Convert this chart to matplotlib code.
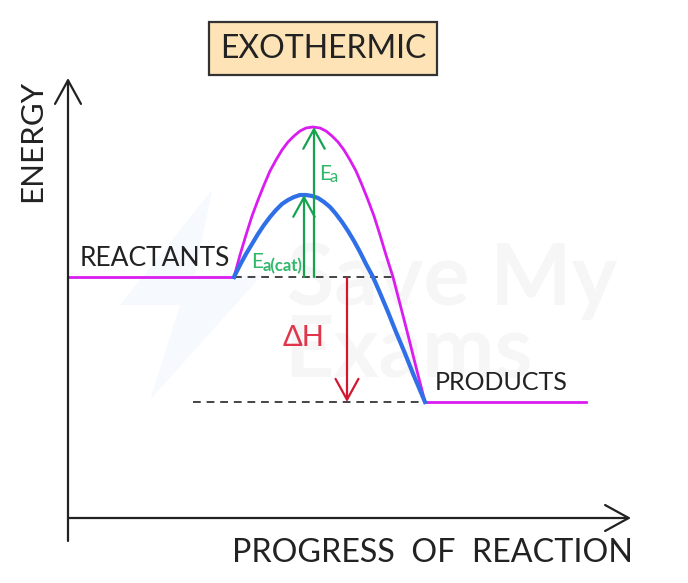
import matplotlib.pyplot as plt
from matplotlib.patches import Polygon, Rectangle

plt.rcParams['font.family'] = ['Lato', 'DejaVu Sans']

# everything, in its pixel coordinates
uncat_x = [234, 240, 246, 252, 258, 264, 270, 276, 282, 288, 294, 300, 306, 313, 320, 326, 332, 338, 344, 350, 356,
           362, 368, 374, 380, 386, 393, 400, 408, 416, 425]
uncat_y = [277, 255, 235, 216, 200, 185, 171, 160, 150, 142, 136, 131, 128, 127, 128, 131, 136, 142, 150, 160, 171,
           185, 200, 216, 235, 255, 277, 304, 335, 367, 402]
cat_x = [234, 240, 246, 252, 258, 264, 270, 276, 282, 288, 294, 300, 303, 306, 312, 318, 324, 330, 336, 342, 348,
         354, 360, 366, 373, 380, 388, 396, 404, 414, 425]
cat_y = [277, 265, 254, 244, 234, 225, 217, 210, 204, 200, 197, 195, 195, 195, 196, 198, 202, 207, 214, 222, 231,
         241, 252, 264, 277, 293, 312, 332, 351, 376, 402]
reactants_x = [68, 234]
reactants_y = [277, 277]
products_x = [425, 586]
products_y = [402, 402]

fig = plt.figure(figsize=(6.88, 5.83), dpi=100)
ax = fig.add_axes([0, 0, 1, 1])
ax.set_xlim(0, 688)
ax.set_ylim(583, 0)
ax.axis('off')

# faint watermark
bolt = [(212, 190), (120, 305), (180, 305), (150, 400), (262, 275), (195, 275)]
ax.add_patch(Polygon(bolt, closed=True, fc='#f6f9fd', ec='none', zorder=0))
ax.text(452, 280, 'Save My', fontsize=62, color='#f6f6f6', ha='center', va='center', fontweight='bold', zorder=0)
ax.text(408, 352, 'Exams', fontsize=62, color='#f6f6f6', ha='center', va='center', fontweight='bold', zorder=0)

# title box
ax.add_patch(Rectangle((209, 22), 228, 53, fc='#fde3b5', ec='#333333', lw=1.6))
ax.text(323, 49, 'EXOTHERMIC', fontsize=23, color='#222222', ha='center', va='center')


def arrow(x0, y0, x1, y1, color, lw, size):
    ax.annotate('', xy=(x1, y1), xytext=(x0, y0),
                arrowprops=dict(arrowstyle=f'->,head_length={size},head_width={size * 0.55}',
                                color=color, lw=lw, shrinkA=0, shrinkB=0))


# axes
arrow(68, 541, 68, 78, '#222222', 1.6, 1.7)
arrow(68, 518, 631, 518, '#222222', 1.6, 1.7)
ax.text(32, 141, 'ENERGY', fontsize=22.5, color='#222222', rotation=90, ha='center', va='center')
ax.text(432, 553, 'PROGRESS  OF  REACTION', fontsize=23.2, color='#222222', ha='center', va='center')

# dashed levels
ax.plot([234, 395], [277, 277], color='#444444', lw=1.4, dashes=(4, 3))
ax.plot([193, 425], [402, 402], color='#444444', lw=1.4, dashes=(4, 3))

# energy curves
ax.plot(reactants_x, reactants_y, color='#d91cf0', lw=2)
ax.plot(products_x, products_y, color='#d91cf0', lw=2)
ax.plot(uncat_x, uncat_y, color='#d91cf0', lw=2, solid_joinstyle='round')
ax.plot(cat_x, cat_y, color='#2f6fe8', lw=3, solid_joinstyle='round')

# activation energy and enthalpy arrows
arrow(314, 277, 314, 127, '#16a34f', 1.6, 1.4)
arrow(304, 277, 304, 195, '#16a34f', 1.6, 1.4)
arrow(347, 278, 347, 402, '#d4152e', 1.6, 1.5)

ax.text(319, 174, 'E', fontsize=15, color='#2fb86a', ha='left', va='center')
ax.text(329, 177, 'a', fontsize=12, color='#2fb86a', ha='left', va='center')
ax.text(251, 262, 'E', fontsize=15, color='#2fb86a', ha='left', va='center')
ax.text(263, 266, 'a(cat)', fontsize=12, color='#2fb86a', ha='left', va='center', fontweight='bold')
ax.text(304, 338, '\u0394H', fontsize=21, color='#e0354a', ha='center', va='center')

ax.text(155, 258, 'REACTANTS', fontsize=19, color='#222222', ha='center', va='center')
ax.text(501, 382, 'PRODUCTS', fontsize=18, color='#222222', ha='center', va='center')

fig.savefig('out.png', dpi=100, facecolor='white')
plt.close(fig)
